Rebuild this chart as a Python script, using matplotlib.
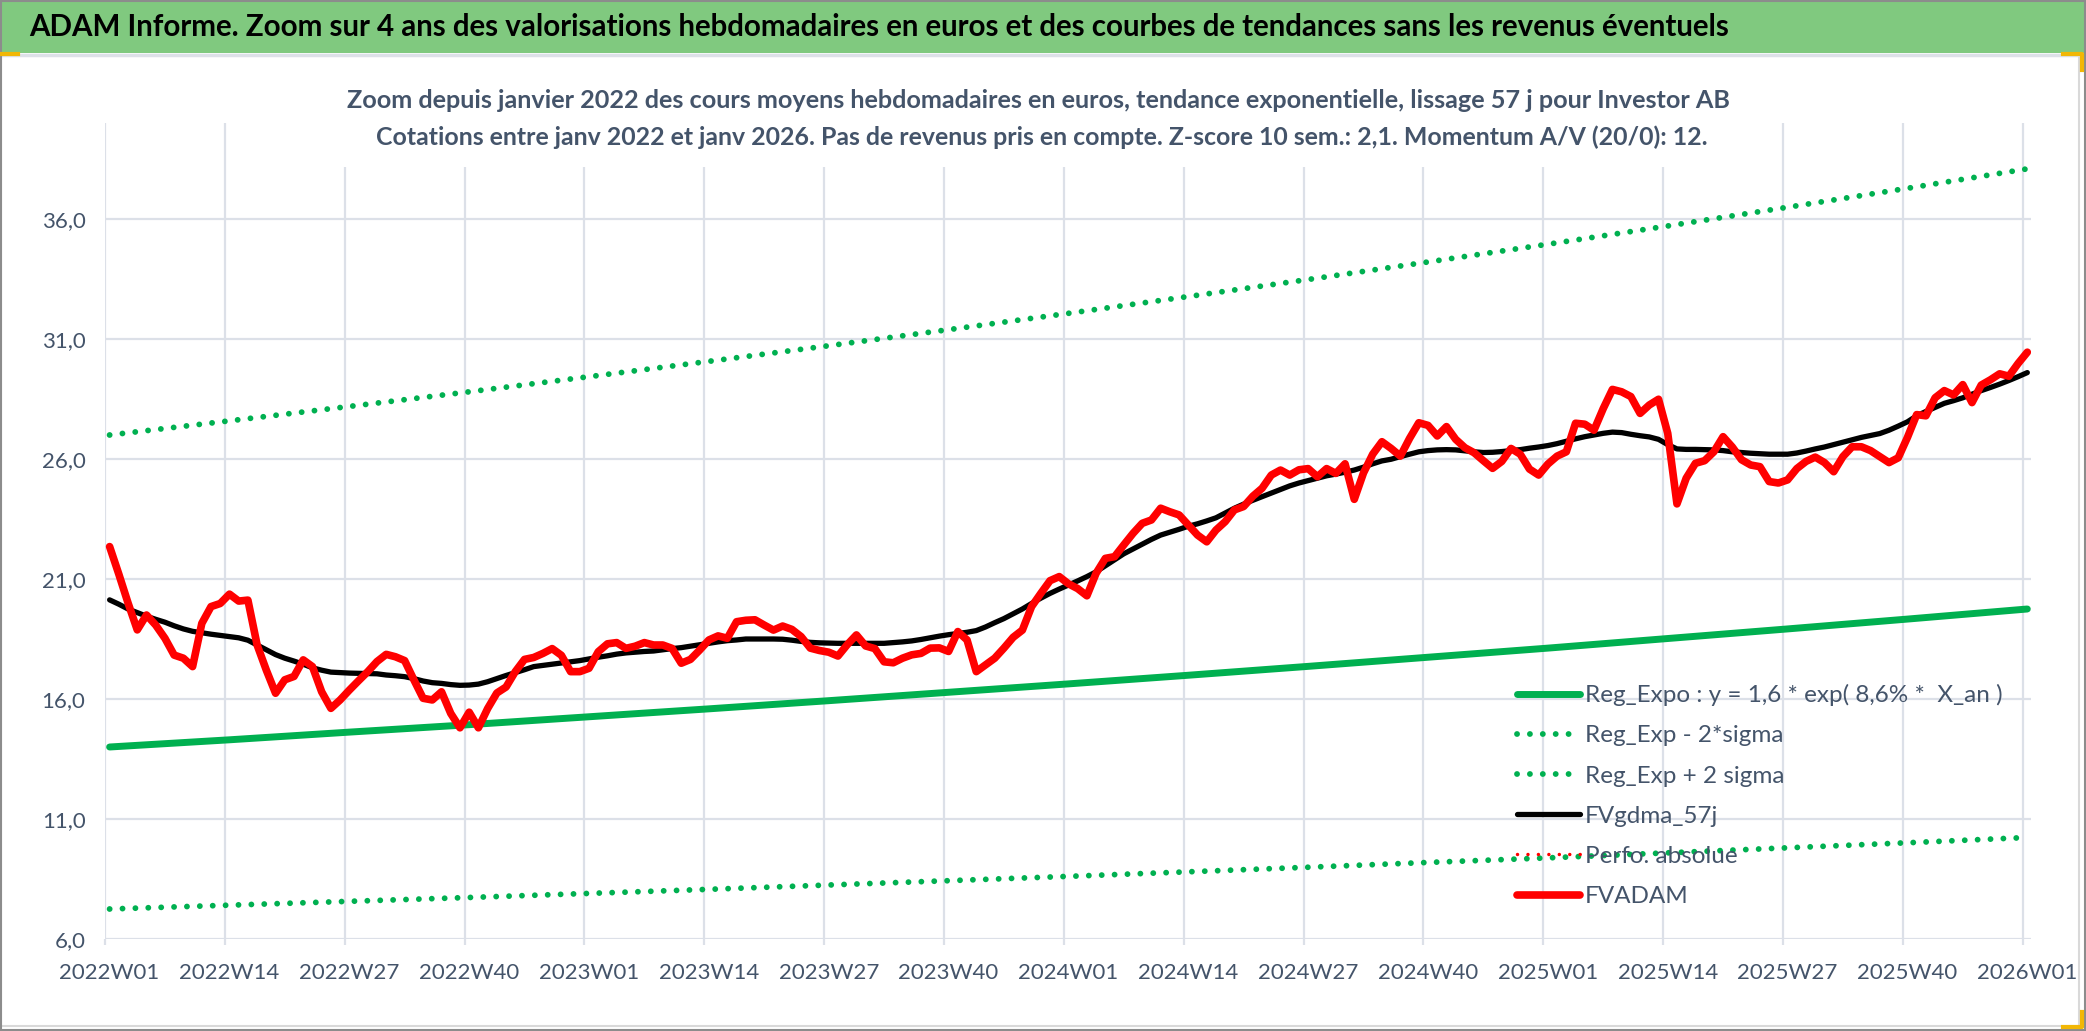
import numpy as np
import matplotlib.pyplot as plt
from matplotlib.patches import Rectangle
from matplotlib.lines import Line2D

W, H = 2086, 1031
FONT = ['Lato', 'DejaVu Sans']

# x axis tick labels (every 13 weeks)
week_labels = ['2022W01', '2022W14', '2022W27', '2022W40',
               '2023W01', '2023W14', '2023W27', '2023W40',
               '2024W01', '2024W14', '2024W27', '2024W40',
               '2025W01', '2025W14', '2025W27', '2025W40', '2026W01']

# weekly valuations (FVADAM), 2022W01 .. 2026W01
fvadam = [22.35, 21.2, 20.0, 18.88, 19.5, 19.08, 18.53, 17.83, 17.7, 17.35,
          19.15, 19.85, 19.98, 20.37, 20.08, 20.12, 18.25, 17.2, 16.24, 16.8,
          16.94, 17.63, 17.35, 16.3, 15.61, 15.96, 16.37, 16.76, 17.14, 17.56,
          17.86, 17.76, 17.6, 16.8, 16.03, 15.96, 16.3, 15.4, 14.8, 15.45,
          14.8, 15.6, 16.25, 16.5, 17.14, 17.65, 17.73, 17.9, 18.1, 17.82,
          17.14, 17.14, 17.28, 17.97, 18.3, 18.35, 18.11, 18.2, 18.35, 18.25,
          18.25, 18.11, 17.49, 17.65, 18.04, 18.46, 18.63, 18.53, 19.22, 19.28,
          19.3, 19.08, 18.87, 19.04, 18.9, 18.6, 18.12, 18.02, 17.95, 17.79,
          18.26, 18.67, 18.21, 18.1, 17.55, 17.51, 17.7, 17.84, 17.9, 18.12,
          18.13, 17.98, 18.81, 18.46, 17.14, 17.42, 17.7, 18.12, 18.57, 18.87,
          19.85, 20.4, 20.93, 21.1, 20.8, 20.6, 20.3, 21.24, 21.86, 21.93,
          22.42, 22.9, 23.32, 23.46, 23.95, 23.8, 23.67, 23.25, 22.83, 22.55,
          23.04, 23.39, 23.88, 24.02, 24.45, 24.78, 25.33, 25.54, 25.33, 25.55,
          25.6, 25.26, 25.6, 25.4, 25.8, 24.32, 25.42, 26.2, 26.72, 26.44,
          26.12, 26.86, 27.51, 27.4, 26.96, 27.35, 26.82, 26.47, 26.26, 25.93,
          25.61, 25.9, 26.44, 26.2, 25.58, 25.33, 25.79, 26.12, 26.3, 27.49,
          27.45, 27.2, 28.1, 28.9, 28.8, 28.6, 27.9, 28.25, 28.49, 27.07,
          24.13, 25.2, 25.82, 25.93, 26.3, 26.93, 26.5, 25.97, 25.75, 25.68,
          25.06, 25.0, 25.13, 25.6, 25.9, 26.08, 25.85, 25.47, 26.1, 26.51,
          26.51, 26.35, 26.1, 25.85, 26.05, 26.9, 27.85, 27.8, 28.55, 28.85,
          28.67, 29.1, 28.35, 29.08, 29.3, 29.55, 29.45, 29.98, 30.45]

# smoothed 57 day average (FVgdma_57j)
fvgdma = [20.13, 19.95, 19.75, 19.6, 19.45, 19.32, 19.2, 19.05, 18.92, 18.82,
          18.76, 18.7, 18.65, 18.6, 18.55, 18.45, 18.25, 18.05, 17.85, 17.7,
          17.58, 17.45, 17.3, 17.2, 17.12, 17.1, 17.08, 17.07, 17.06, 17.05,
          17.0, 16.97, 16.93, 16.85, 16.75, 16.68, 16.65, 16.6, 16.57, 16.58,
          16.62, 16.72, 16.85, 16.98, 17.1, 17.22, 17.35, 17.4, 17.45, 17.5,
          17.55, 17.6, 17.67, 17.74, 17.8, 17.87, 17.92, 17.95, 17.98, 18.0,
          18.05, 18.1, 18.14, 18.2, 18.26, 18.32, 18.38, 18.43, 18.46, 18.5,
          18.5, 18.5, 18.5, 18.49, 18.45, 18.4, 18.36, 18.34, 18.33, 18.32,
          18.32, 18.32, 18.32, 18.32, 18.32, 18.35, 18.38, 18.42, 18.48, 18.55,
          18.62, 18.68, 18.73, 18.78, 18.85, 19.0, 19.18, 19.35, 19.55, 19.75,
          19.98, 20.2, 20.4, 20.58, 20.75, 20.92, 21.1, 21.3, 21.55, 21.8,
          22.05, 22.25, 22.45, 22.65, 22.83, 22.95, 23.07, 23.2, 23.3, 23.42,
          23.55, 23.75, 23.95, 24.12, 24.28, 24.43, 24.58, 24.73, 24.88, 25.0,
          25.1, 25.2, 25.3, 25.37, 25.45, 25.54, 25.66, 25.8, 25.92, 25.99,
          26.1, 26.2, 26.3, 26.35, 26.38, 26.39, 26.38, 26.34, 26.3, 26.27,
          26.28, 26.31, 26.35, 26.39, 26.45, 26.5, 26.56, 26.64, 26.74, 26.84,
          26.93, 27.0, 27.07, 27.12, 27.1, 27.03, 26.97, 26.92, 26.82, 26.6,
          26.42, 26.4, 26.4, 26.39, 26.38, 26.35, 26.3, 26.27, 26.24, 26.22,
          26.2, 26.2, 26.2, 26.25, 26.33, 26.42, 26.5, 26.6, 26.7, 26.8,
          26.9, 26.98, 27.06, 27.2, 27.37, 27.55, 27.8, 27.98, 28.15, 28.32,
          28.43, 28.55, 28.7, 28.85, 28.98, 29.12, 29.27, 29.43, 29.6]

# trend curves, read at each labelled week
reg_expo = [14.0, 14.3, 14.62, 14.93, 15.26, 15.59, 15.93, 16.28, 16.63,
            16.99, 17.36, 17.74, 18.12, 18.52, 18.92, 19.33, 19.75]
reg_low = [7.25, 7.41, 7.57, 7.73, 7.9, 8.07, 8.25, 8.43, 8.61,
           8.8, 8.99, 9.19, 9.38, 9.59, 9.8, 10.01, 10.23]
reg_high = [27.0, 27.59, 28.19, 28.8, 29.43, 30.07, 30.72, 31.39, 32.07,
            32.77, 33.48, 34.21, 34.95, 35.71, 36.49, 37.28, 38.09]

title = ("ADAM Informe. Zoom sur 4 ans des valorisations hebdomadaires en euros "
         "et des courbes de tendances sans les revenus éventuels")
sub1 = ("Zoom depuis janvier 2022 des cours moyens hebdomadaires en euros, "
        "tendance exponentielle, lissage 57 j pour Investor AB")
sub2 = ("Cotations entre janv 2022 et janv 2026. Pas de revenus pris en compte. "
        "Z-score 10 sem.: 2,1. Momentum A/V (20/0): 12.")

GREEN = '#00B050'
GRID = '#DCE0E8'
TXT = '#44546A'


def fx(px):
    return px / W


def fy(py):
    return 1 - py / H


fig = plt.figure(figsize=(W / 100, H / 100), dpi=100)
fig.patch.set_facecolor('white')

# frame, title bar and corner marks
fig.add_artist(Rectangle((fx(1), fy(1026)), fx(2078), 971 / H, transform=fig.transFigure,
                         facecolor='white', edgecolor='#D9D9D9', lw=1.5, zorder=-2))
fig.add_artist(Rectangle((0, fy(53)), 1, 53 / H, transform=fig.transFigure,
                         facecolor='#80C97F', edgecolor='none', zorder=-1))
fig.add_artist(Line2D([0, 1], [fy(55), fy(55)], transform=fig.transFigure,
                      color='#DDE1E8', lw=2.5))
fig.add_artist(Rectangle((0.0005, 0.001), 0.999, 0.998, transform=fig.transFigure,
                         facecolor='none', edgecolor='#8C8C8C', lw=1.5, zorder=10))
for xs, ys in [([fx(0), fx(18)], [fy(54), fy(54)]),
               ([fx(2063), fx(2082), fx(2082)], [fy(54), fy(54), fy(70)]),
               ([fx(2063), fx(2082), fx(2082)], [fy(1027), fy(1027), fy(1012)])]:
    fig.add_artist(Line2D(xs, ys, transform=fig.transFigure, color='#F2B705', lw=3, zorder=11))

ax = fig.add_axes([fx(105), 1 - 939 / H, (2031 - 105) / W, (939 - 123) / H])
ax.set_facecolor('none')

x = np.arange(len(fvadam))
xt = np.arange(0, len(fvadam), 13)

dots = (0, (0.01, 2.2))
l_reg, = ax.plot(xt, reg_expo, color=GREEN, lw=5, solid_capstyle='round',
                 label='Reg_Expo : y = 1,6 * exp( 8,6% *  X_an )')
l_low, = ax.plot(xt, reg_low, color=GREEN, lw=4.2, linestyle=dots, dash_capstyle='round',
                 label='Reg_Exp - 2*sigma')
l_high, = ax.plot(xt, reg_high, color=GREEN, lw=4.2, linestyle=dots, dash_capstyle='round',
                  label='Reg_Exp + 2 sigma')
l_gdma, = ax.plot(x, fvgdma, color='black', lw=3.8, solid_joinstyle='round',
                  solid_capstyle='round', label='FVgdma_57j')
l_perf, = ax.plot([], [], color='red', lw=2.5, linestyle=(0, (0.01, 3.0)),
                  dash_capstyle='round', label='Perfo. absolue')
l_adam, = ax.plot(x, fvadam, color='#FF0000', lw=5.5, solid_joinstyle='round',
                  solid_capstyle='round', label='FVADAM')

ax.set_xlim(-0.5, 208.4)
ax.set_ylim(6, 40)
ax.set_yticks(np.arange(6, 37, 5))
ax.set_yticklabels([f'{v:.1f}'.replace('.', ',') for v in np.arange(6, 37, 5)])
ax.set_xticks(xt)
ax.set_xticklabels(week_labels)
ax.set_xticks(xt - 0.5, minor=True)
for s in ax.spines.values():
    s.set_visible(False)
ax.grid(axis='y', which='major', color=GRID, lw=1.6)
ax.grid(axis='x', which='minor', color=GRID, lw=1.6)
ax.tick_params(axis='x', which='major', length=0, pad=17, labelsize=16, labelcolor=TXT)
ax.tick_params(axis='x', which='minor', length=4.5, width=1.6, color=GRID)
ax.tick_params(axis='y', which='major', length=0, pad=14, labelsize=16, labelcolor=TXT)
for lab in ax.get_xticklabels() + ax.get_yticklabels():
    lab.set_family(FONT)

leg = ax.legend(handles=[l_reg, l_low, l_high, l_gdma, l_perf, l_adam],
                loc='upper left', bbox_to_anchor=(fx(1517), fy(684)),
                bbox_transform=fig.transFigure, frameon=False,
                prop={'family': FONT, 'size': 17.5}, labelcolor=TXT,
                handlelength=2.6, handletextpad=0.2, labelspacing=0.79,
                borderpad=0, borderaxespad=0)

# white area behind the chart title
fig.add_artist(Rectangle((fx(330), fy(167)), fx(1420), 100 / H, transform=fig.transFigure,
                         facecolor='white', edgecolor='none', zorder=2))

t0 = fig.text(fx(29), fy(27), title, ha='left', va='center', fontsize=21,
              fontweight='bold', family=FONT, color='black', zorder=12)
t1 = fig.text(fx(1038), fy(100), sub1, ha='center', va='center', fontsize=18,
              fontweight='bold', family=FONT, color=TXT, zorder=5)
t2 = fig.text(fx(1042), fy(137), sub2, ha='center', va='center', fontsize=18,
              fontweight='bold', family=FONT, color=TXT, zorder=5)

# fit text widths to the reference
fig.canvas.draw()
r = fig.canvas.get_renderer()
for t, target in [(t0, 1703), (t1, 1389), (t2, 1334)]:
    w = t.get_window_extent(renderer=r).width
    t.set_fontsize(t.get_fontsize() * target / w)

fig.savefig('out.png', dpi=100)
